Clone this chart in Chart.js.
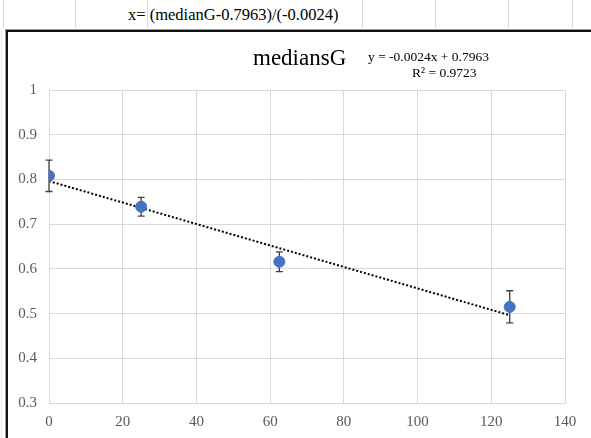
<!DOCTYPE html>
<html>
<head>
<meta charset="utf-8">
<script src="https://cdn.jsdelivr.net/npm/chart.js@4"></script>
<style>
  html, body { margin:0; padding:0; background:#fff; }
  body { width:591px; height:438px; position:relative; overflow:hidden; font-family:"Liberation Serif", "DejaVu Serif", serif; }
  .vl { position:absolute; top:0; height:28px; width:1px; background:#dadada; }
  .txt { position:absolute; white-space:nowrap; color:#000; line-height:1; font-family:"Liberation Serif", serif; }
  #frameOuter { position:absolute; left:5px; top:29px; width:600px; height:420px; border-left:1px solid #9a9a9a; border-top:1px solid #9a9a9a; }
  #frameInner { position:absolute; left:6px; top:30px; width:600px; height:420px; border-left:2px solid #111; border-top:2px solid #111; }
  #wrap { position:absolute; left:0; top:0; width:591px; height:438px; }
</style>
</head>
<body>
<div class="vl" style="left:3px"></div>
<div class="vl" style="left:75px"></div>
<div class="vl" style="left:147px"></div>
<div class="vl" style="left:362px"></div>
<div class="vl" style="left:435px"></div>
<div class="vl" style="left:508px"></div>
<div class="vl" style="left:572px"></div>
<div style="position:absolute;left:1px;top:30px;width:1px;height:408px;background:#e2e2e2"></div>
<div class="txt" style="left:128px;top:7px;font-size:16.5px;">x= (medianG-0.7963)/(-0.0024)</div>
<div id="frameOuter"></div>
<div id="frameInner"></div>
<div id="wrap"><canvas id="c" width="591" height="438"></canvas></div>
<div class="txt" style="left:253px;top:46px;font-size:23px;">mediansG</div>
<div class="txt" style="left:368px;top:50px;font-size:13.5px;">y = -0.0024x + 0.7963</div>
<div class="txt" style="left:412px;top:66px;font-size:13.5px;">R² = 0.9723</div>
<script>
const xValues = [0, 25, 62.5, 125];
const medians = [0.808, 0.739, 0.616, 0.515];
const errors  = [0.035, 0.021, 0.022, 0.036];
const trendX = [0, 125];
const trendY = [0.7963, 0.4963];
const xTicks = [0, 20, 40, 60, 80, 100, 120, 140];
const yTicks = [0.3, 0.4, 0.5, 0.6, 0.7, 0.8, 0.9, 1];

const errorBars = {
  id: 'errorBars',
  beforeDatasetsDraw(chart) {
    const ctx = chart.ctx;
    const xs = chart.scales.x, ys = chart.scales.y;
    ctx.save();
    ctx.strokeStyle = '#404040';
    ctx.lineWidth = 1.3;
    for (let i = 0; i < xValues.length; i++) {
      const px = xs.getPixelForValue(xValues[i]);
      const top = ys.getPixelForValue(medians[i] + errors[i]);
      const bot = ys.getPixelForValue(medians[i] - errors[i]);
      ctx.beginPath();
      ctx.moveTo(px, top); ctx.lineTo(px, bot);
      ctx.moveTo(px - 3.5, top); ctx.lineTo(px + 3.5, top);
      ctx.moveTo(px - 3.5, bot); ctx.lineTo(px + 3.5, bot);
      ctx.stroke();
    }
    ctx.restore();
  }
};

const tickFont = { family: '"Liberation Serif", serif', size: 15 };

new Chart(document.getElementById('c'), {
  type: 'scatter',
  data: {
    datasets: [
      {
        label: 'mediansG',
        data: xValues.map((x, i) => ({ x: x, y: medians[i] })),
        backgroundColor: '#4472C4',
        borderColor: '#4472C4',
        pointRadius: 5.5,
        pointHoverRadius: 5.5,
        order: 0
      },
      {
        type: 'line',
        label: 'trend',
        data: trendX.map((x, i) => ({ x: x, y: trendY[i] })),
        borderColor: '#000',
        borderWidth: 2,
        borderDash: [2, 2],
        pointRadius: 0,
        fill: false,
        order: 1
      }
    ]
  },
  options: {
    responsive: false,
    animation: false,
    devicePixelRatio: 1,
    layout: { padding: { left: 0, right: 26, top: 90, bottom: 0 } },
    plugins: { legend: { display: false }, tooltip: { enabled: false } },
    scales: {
      x: {
        type: 'linear', min: 0, max: 140,
        afterBuildTicks(s) { s.ticks = xTicks.map(v => ({ value: v })); },
        afterFit(s) { s.height = 35; },
        grid: { color: '#d9d9d9', lineWidth: 1, drawTicks: false },
        border: { color: '#d9d9d9', width: 1 },
        ticks: { font: tickFont, color: '#595959', padding: 10, maxRotation: 0 }
      },
      y: {
        type: 'linear', min: 0.3, max: 1,
        afterBuildTicks(s) { s.ticks = yTicks.map(v => ({ value: v })); },
        afterFit(s) { s.width = 49; },
        grid: { color: '#d9d9d9', lineWidth: 1, drawTicks: false },
        border: { color: '#d9d9d9', width: 1 },
        ticks: { font: tickFont, color: '#595959', padding: 12, callback: v => String(Math.round(v * 10) / 10) }
      }
    }
  },
  plugins: [errorBars]
});
</script>
</body>
</html>
